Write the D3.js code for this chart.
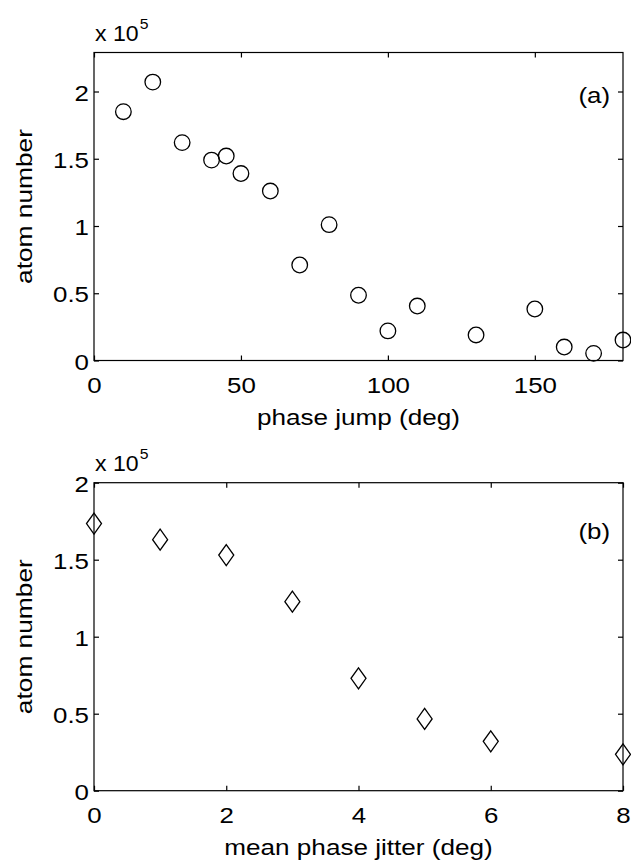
<!DOCTYPE html>
<html>
<head>
<meta charset="utf-8">
<script src="https://cdn.jsdelivr.net/npm/d3@7"></script>
<style>
  body { margin: 0; background: #fff; }
  svg text { font-family: "Liberation Sans", Arial, Helvetica, sans-serif; fill: #000; }
</style>
</head>
<body>
<div id="chart"></div>
<script>
// (a) atom number (x 10^5) against phase jump
var jumpDeg   = [10, 20, 30, 40, 45, 50, 60, 70, 80, 90, 100, 110, 130, 150, 160, 170, 180];
var jumpAtoms = [1.85, 2.07, 1.62, 1.49, 1.52, 1.39, 1.26, 0.71, 1.01, 0.485, 0.22, 0.405, 0.19, 0.383, 0.10, 0.053, 0.152];

// (b) atom number (x 10^5) against mean phase jitter
var jitterDeg   = [0, 1, 2, 3, 4, 5, 6, 8];
var jitterAtoms = [1.735, 1.63, 1.53, 1.227, 0.73, 0.466, 0.321, 0.236];

var jumpTicksX   = [0, 50, 100, 150];
var jitterTicksX = [0, 2, 4, 6, 8];
var atomTicksY   = [0, 0.5, 1, 1.5, 2];

var width = 631, height = 860;
var left = 94, plotW = 529, plotH = 308;
var fontSize = "22.5px", stretch = "scale(1.15,1)";   // matlab text comes out wider than arial

var svg = d3.select("#chart")
    .append("svg")
    .attr("width", width)
    .attr("height", height);

function drawPanel(p) {
    var g = svg.append("g")
        .attr("transform", "translate(" + left + "," + p.top + ")");

    var x = d3.scaleLinear().domain(p.xDomain).range([0, plotW]);
    var y = d3.scaleLinear().domain(p.yDomain).range([plotH, 0]);

    // inward ticks on all four sides, like matlab
    g.append("g")
        .attr("transform", "translate(0," + plotH + ")")
        .call(d3.axisBottom(x).tickValues(p.xTicks).tickSizeInner(-5).tickSizeOuter(0).tickFormat(d3.format("~g")))
        .call(function (a) {
            a.select(".domain").remove();
            a.selectAll("text")
                .attr("y", 0).attr("dy", 0)
                .attr("transform", "translate(0,32)" + stretch)
                .style("font-size", fontSize);
        });

    g.append("g")
        .call(d3.axisTop(x).tickValues(p.xTicks).tickSizeInner(-5).tickSizeOuter(0))
        .call(function (a) { a.select(".domain").remove(); a.selectAll("text").remove(); });

    g.append("g")
        .call(d3.axisLeft(y).tickValues(atomTicksY).tickSizeInner(-5).tickSizeOuter(0).tickFormat(d3.format("~g")))
        .call(function (a) {
            a.select(".domain").remove();
            a.selectAll("text")
                .attr("x", 0).attr("dy", "0.38em")
                .attr("transform", "translate(-5,0)" + stretch)
                .style("font-size", fontSize);
        });

    g.append("g")
        .attr("transform", "translate(" + plotW + ",0)")
        .call(d3.axisRight(y).tickValues(atomTicksY).tickSizeInner(-5).tickSizeOuter(0))
        .call(function (a) { a.select(".domain").remove(); a.selectAll("text").remove(); });

    g.selectAll(".tick line").attr("stroke", "#000").attr("stroke-width", 1.2);

    g.append("rect")
        .attr("width", plotW)
        .attr("height", plotH)
        .attr("fill", "none")
        .attr("stroke", "#000")
        .attr("stroke-width", 1.2);

    // markers
    var pts = p.xs.map(function (d, i) { return [d, p.ys[i]]; });
    if (p.marker == "circle") {
        g.selectAll(".mk")
            .data(pts)
            .enter()
            .append("circle")
            .attr("cx", function (d) { return x(d[0]); })
            .attr("cy", function (d) { return y(d[1]); })
            .attr("r", 7.8)
            .attr("fill", "none")
            .attr("stroke", "#000")
            .attr("stroke-width", 1.3);
    } else {
        g.selectAll(".mk")
            .data(pts)
            .enter()
            .append("path")
            .attr("transform", function (d) { return "translate(" + x(d[0]) + "," + y(d[1]) + ")"; })
            .attr("d", "M0,-10.5L7.5,0L0,10.5L-7.5,0Z")
            .attr("fill", "none")
            .attr("stroke", "#000")
            .attr("stroke-width", 1.3);
    }

    // exponent label
    var ex = g.append("text")
        .attr("transform", "translate(1,-12)scale(1.05,1)")
        .style("font-size", "22px");
    ex.append("tspan").text("x 10");
    ex.append("tspan").text("5").attr("dx", 1).attr("dy", -12).style("font-size", "15px");

    // panel tag
    g.append("text")
        .attr("text-anchor", "end")
        .attr("transform", "translate(" + (plotW - 13) + "," + p.tagY + ")" + stretch)
        .style("font-size", fontSize)
        .text(p.tag);

    // axis titles
    g.append("text")
        .attr("text-anchor", "middle")
        .attr("transform", "translate(" + (plotW / 2) + "," + (plotH + 64.5) + ")scale(1.16,1)")
        .style("font-size", fontSize)
        .text(p.xLabel);

    g.append("text")
        .attr("text-anchor", "middle")
        .attr("transform", "translate(" + (32 - left) + "," + (plotH / 2) + ")rotate(-90)scale(1.17,1)")
        .style("font-size", fontSize)
        .text("atom number");
}

drawPanel({
    top: 52.5,
    xDomain: [0, 180], yDomain: [0, 2.29],
    xTicks: jumpTicksX,
    xs: jumpDeg, ys: jumpAtoms,
    marker: "circle",
    tag: "(a)", tagY: 50,
    xLabel: "phase jump (deg)"
});

drawPanel({
    top: 482.7,
    xDomain: [0, 8], yDomain: [0, 2],
    xTicks: jitterTicksX,
    xs: jitterDeg, ys: jitterAtoms,
    marker: "diamond",
    tag: "(b)", tagY: 56.5,
    xLabel: "mean phase jitter (deg)"
});
</script>
</body>
</html>
